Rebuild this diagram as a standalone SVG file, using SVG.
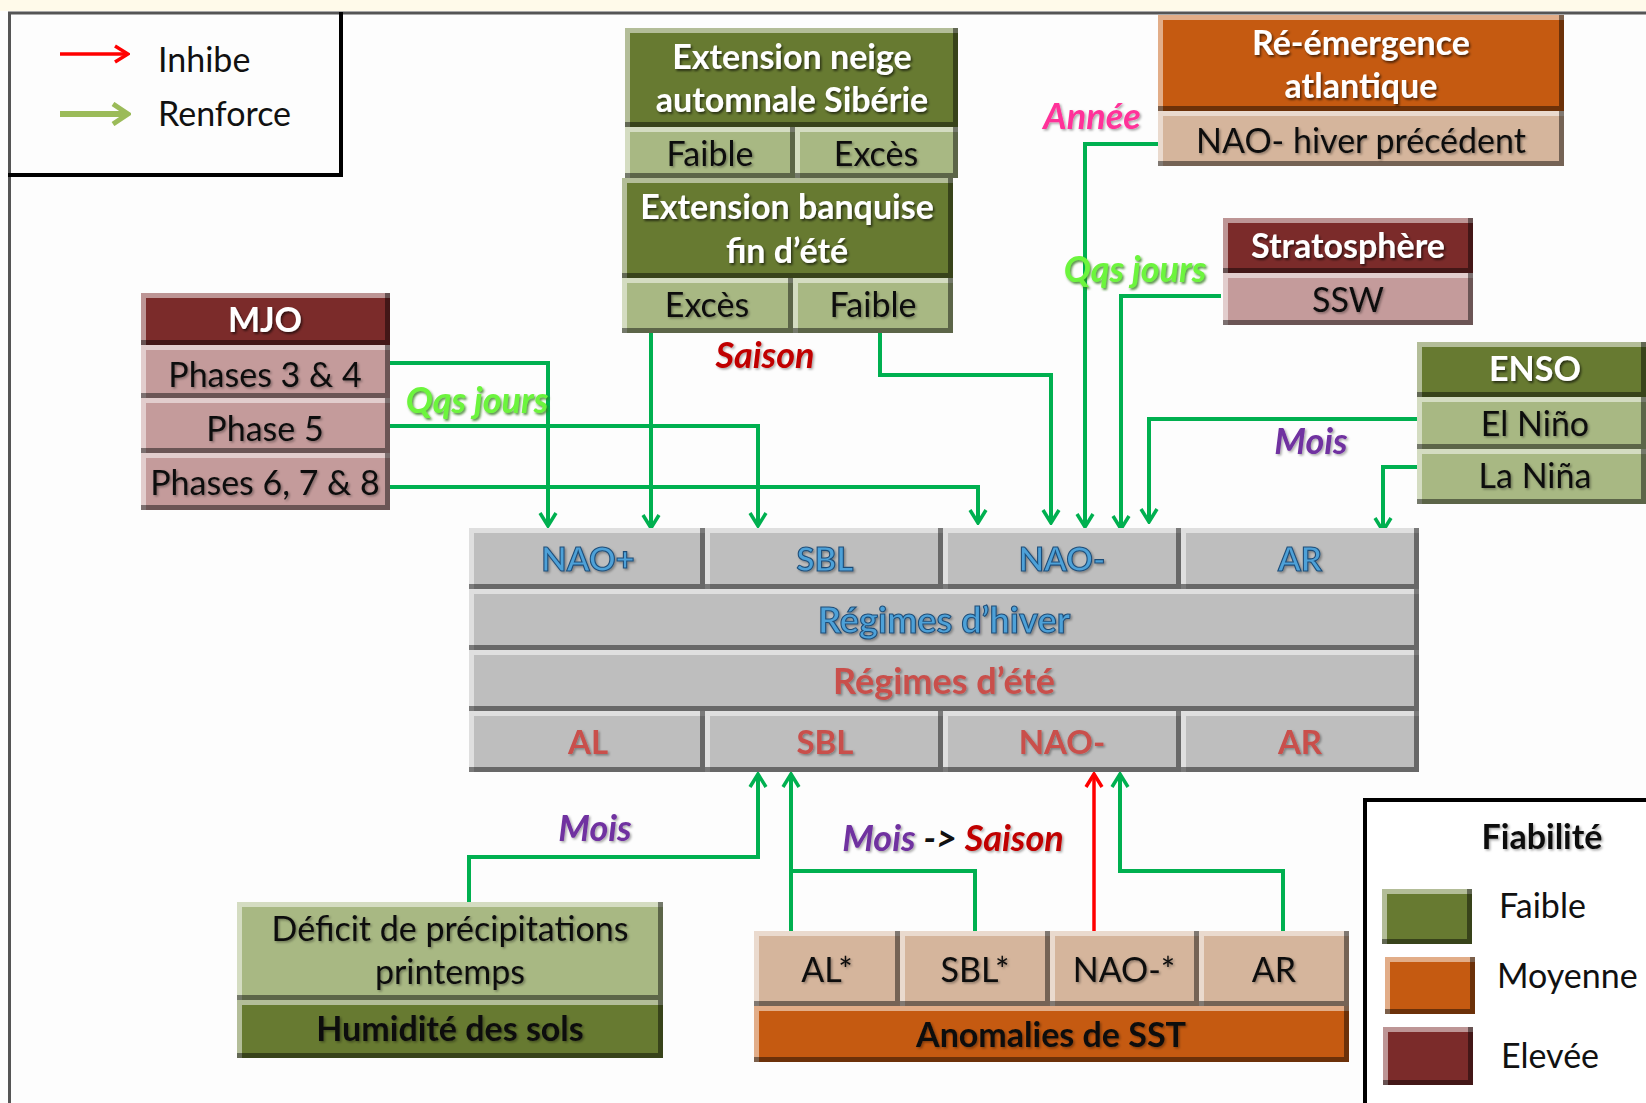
<svg xmlns="http://www.w3.org/2000/svg" width="1646" height="1103" viewBox="0 0 1646 1103">
<defs>
<style>
text{font-family:Lato,"Open Sans","Liberation Sans",sans-serif}
.og{fill:#677a31;filter:url(#bv)}
.ol{fill:#a8b883;filter:url(#bv)}
.or{fill:#c55a11;filter:url(#bv)}
.tn{fill:#d5b59c;filter:url(#bv)}
.dr{fill:#7b2b2a;filter:url(#bv)}
.pk{fill:#c49b9b;filter:url(#bv)}
.gy{fill:#bebebe;filter:url(#bv)}
.hw{fill:#fff;font-weight:700;font-size:34px;text-anchor:middle;filter:url(#ts)}
.rk{fill:#111;font-size:34px;text-anchor:middle;filter:url(#ts2)}
.rb{fill:#111;font-size:34px;font-weight:700;text-anchor:middle;filter:url(#ts2)}
.bl{fill:#4ea1d8;stroke:#1f4e79;stroke-width:1.1;font-weight:700;font-size:33px;text-anchor:middle;filter:url(#ts2)}
.rd{fill:#c9504c;font-weight:700;font-size:33px;text-anchor:middle;filter:url(#ts2)}
.big{font-size:36px}
.lbl{font-weight:700;font-style:italic;font-size:36px;text-anchor:middle}
.qj{fill:#6cf53c;filter:url(#gl)}
.mo{fill:#7030a0;filter:url(#ts2)}
.sa{fill:#c00000;filter:url(#ts2)}
.an{fill:#ff3399;filter:url(#ts2)}
.leg{fill:#111;font-size:34px}
.ln{fill:none;stroke:#00b050;stroke-width:4}
.cg{fill:none;stroke:#00b050;stroke-width:4;marker-end:url(#ag)}
.cr{fill:none;stroke:#ff0000;stroke-width:3.5;marker-end:url(#ar)}
</style>
<filter id="bv" x="0" y="0" width="1" height="1" color-interpolation-filters="sRGB">
<feOffset in="SourceAlpha" dx="5" dy="5" result="o1"/>
<feComposite in="SourceAlpha" in2="o1" operator="out" result="tl"/>
<feFlood flood-color="#ffffff" flood-opacity="0.5" result="w"/>
<feComposite in="w" in2="tl" operator="in" result="hl"/>
<feOffset in="SourceAlpha" dx="-5" dy="-5" result="o2"/>
<feComposite in="SourceAlpha" in2="o2" operator="out" result="br"/>
<feFlood flood-color="#000000" flood-opacity="0.45" result="k"/>
<feComposite in="k" in2="br" operator="in" result="sh"/>
<feMerge><feMergeNode in="SourceGraphic"/><feMergeNode in="hl"/><feMergeNode in="sh"/></feMerge>
</filter>
<filter id="ts" x="-10%" y="-30%" width="120%" height="160%"><feDropShadow dx="1.5" dy="2" stdDeviation="1" flood-color="#000" flood-opacity="0.6"/></filter>
<filter id="ts2" x="-10%" y="-30%" width="120%" height="160%"><feDropShadow dx="1.5" dy="1.5" stdDeviation="1" flood-color="#000" flood-opacity="0.35"/></filter>
<filter id="gl" x="-10%" y="-30%" width="120%" height="160%"><feDropShadow dx="1.5" dy="2" stdDeviation="1.2" flood-color="#2e7d1e" flood-opacity="0.8"/></filter>
<marker id="ag" viewBox="0 0 16 20" refX="14" refY="10" markerWidth="16" markerHeight="20" markerUnits="userSpaceOnUse" orient="auto"><path d="M1,2 L14,10 L1,18" fill="none" stroke="#00b050" stroke-width="3.5"/></marker>
<marker id="ar" viewBox="0 0 16 20" refX="14" refY="10" markerWidth="16" markerHeight="20" markerUnits="userSpaceOnUse" orient="auto"><path d="M1,2 L14,10 L1,18" fill="none" stroke="#ff0000" stroke-width="3.5"/></marker>
<marker id="lg" viewBox="0 0 20 24" refX="17" refY="12" markerWidth="20" markerHeight="24" markerUnits="userSpaceOnUse" orient="auto"><path d="M2,2 L17,12 L2,22" fill="none" stroke="#9bbb59" stroke-width="5"/></marker>
</defs>

<rect x="0" y="0" width="1646" height="1103" fill="#fdfdfd"/>
<rect x="0" y="0" width="1646" height="11" fill="#fffaea"/>
<line x1="8" y1="13" x2="1646" y2="13" stroke="#555" stroke-width="3"/>
<line x1="9.5" y1="12" x2="9.5" y2="1103" stroke="#555" stroke-width="3"/>

<g id="legend-arrows">
<line x1="8" y1="175" x2="343" y2="175" stroke="#000" stroke-width="4"/>
<line x1="341" y1="12" x2="341" y2="177" stroke="#000" stroke-width="4"/>
<line x1="60" y1="54" x2="128" y2="54" stroke="#ff0000" stroke-width="3.5" marker-end="url(#ar)"/>
<line x1="60" y1="114" x2="128" y2="114" stroke="#9bbb59" stroke-width="6" marker-end="url(#lg)"/>
<text class="leg" x="158" y="72">Inhibe</text>
<text class="leg" x="158" y="126">Renforce</text>
</g>

<g id="connectors">
<path class="cg" d="M390,363 H548 V526"/>
<path class="cg" d="M390,426 H758 V526"/>
<path class="cg" d="M390,487 H978 V523"/>
<path class="cg" d="M651,333 V528"/>
<path class="cg" d="M880,333 V375 H1051 V523"/>
<path class="cg" d="M1158,144 H1085 V527"/>
<path class="cg" d="M1221,296 H1121 V529"/>
<path class="cg" d="M1417,419 H1149 V522"/>
<path class="cg" d="M1417,467 H1383 V531"/>
<path class="cg" d="M469,902 V857 H758 V774"/>
<path class="cg" d="M791,931 V774"/>
<path class="ln" d="M975,931 V871 H791"/>
<path class="cr" d="M1094,931 V774"/>
<path class="cg" d="M1283,931 V871 H1120 V774"/>
</g>

<g id="labels">
<text class="lbl qj" x="477" y="413">Qqs jours</text>
<text class="lbl sa" x="765" y="368">Saison</text>
<text class="lbl an" x="1092" y="129">Année</text>
<text class="lbl qj" x="1135" y="282">Qqs jours</text>
<text class="lbl mo" x="1311" y="454">Mois</text>
<text class="lbl mo" x="595" y="841">Mois</text>
<text class="lbl" x="953" y="851"><tspan class="mo">Mois</tspan><tspan fill="#111"> -&gt; </tspan><tspan class="sa">Saison</tspan></text>
</g>

<g id="neige">
<rect class="og" x="625" y="28" width="333" height="99"/>
<rect class="ol" x="625" y="127" width="170" height="51"/>
<rect class="ol" x="795" y="127" width="163" height="51"/>
<text class="hw" x="792" y="69">Extension neige</text>
<text class="hw" x="792" y="112">automnale Sibérie</text>
<text class="rk" x="710" y="166">Faible</text>
<text class="rk" x="876" y="166">Excès</text>
</g>

<g id="banquise">
<rect class="og" x="622" y="178" width="331" height="100"/>
<rect class="ol" x="622" y="278" width="171" height="55"/>
<rect class="ol" x="793" y="278" width="160" height="55"/>
<text class="hw" x="787" y="219">Extension banquise</text>
<text class="hw" x="787" y="263">fin d’été</text>
<text class="rk" x="707" y="317">Excès</text>
<text class="rk" x="873" y="317">Faible</text>
</g>

<g id="reemergence">
<rect class="or" x="1158" y="15" width="406" height="96"/>
<rect class="tn" x="1158" y="111" width="406" height="55"/>
<text class="hw" x="1361" y="55">Ré-émergence</text>
<text class="hw" x="1361" y="98">atlantique</text>
<text class="rk" x="1361" y="153">NAO- hiver précédent</text>
</g>

<g id="stratosphere">
<rect class="dr" x="1223" y="218" width="250" height="55"/>
<rect class="pk" x="1223" y="273" width="250" height="52"/>
<text class="hw" x="1348" y="258">Stratosphère</text>
<text class="rk" x="1348" y="312">SSW</text>
</g>

<g id="enso">
<rect class="og" x="1417" y="342" width="229" height="55"/>
<rect class="ol" x="1417" y="397" width="229" height="52"/>
<rect class="ol" x="1417" y="449" width="229" height="55"/>
<text class="hw" x="1535" y="381">ENSO</text>
<text class="rk" x="1535" y="436">El Niño</text>
<text class="rk" x="1535" y="488">La Niña</text>
</g>

<g id="mjo">
<rect class="dr" x="141" y="293" width="249" height="52"/>
<rect class="pk" x="141" y="345" width="249" height="53"/>
<rect class="pk" x="141" y="398" width="249" height="55"/>
<rect class="pk" x="141" y="453" width="249" height="57"/>
<text class="hw" x="265" y="332">MJO</text>
<text class="rk" x="265" y="387">Phases 3 &amp; 4</text>
<text class="rk" x="265" y="441">Phase 5</text>
<text class="rk" x="265" y="495">Phases 6, 7 &amp; 8</text>
</g>

<g id="regimes">
<rect class="gy" x="469" y="528" width="236" height="61"/>
<rect class="gy" x="705" y="528" width="238" height="61"/>
<rect class="gy" x="943" y="528" width="238" height="61"/>
<rect class="gy" x="1181" y="528" width="238" height="61"/>
<rect class="gy" x="469" y="589" width="950" height="61"/>
<rect class="gy" x="469" y="650" width="950" height="61"/>
<rect class="gy" x="469" y="711" width="236" height="61"/>
<rect class="gy" x="705" y="711" width="238" height="61"/>
<rect class="gy" x="943" y="711" width="238" height="61"/>
<rect class="gy" x="1181" y="711" width="238" height="61"/>
<text class="bl" x="588" y="571">NAO+</text>
<text class="bl" x="825" y="571">SBL</text>
<text class="bl" x="1062" y="571">NAO-</text>
<text class="bl" x="1300" y="571">AR</text>
<text class="bl big" x="944" y="633">Régimes d’hiver</text>
<text class="rd big" x="944" y="694">Régimes d’été</text>
<text class="rd" x="588" y="754">AL</text>
<text class="rd" x="825" y="754">SBL</text>
<text class="rd" x="1062" y="754">NAO-</text>
<text class="rd" x="1300" y="754">AR</text>
</g>

<g id="deficit">
<rect class="ol" x="237" y="902" width="426" height="98"/>
<rect class="og" x="237" y="1000" width="426" height="58"/>
<text class="rk" x="450" y="941">Déficit de précipitations</text>
<text class="rk" x="450" y="984">printemps</text>
<text class="rb" x="450" y="1041">Humidité des sols</text>
</g>

<g id="sst">
<rect class="tn" x="754" y="931" width="146" height="75"/>
<rect class="tn" x="900" y="931" width="150" height="75"/>
<rect class="tn" x="1050" y="931" width="149" height="75"/>
<rect class="tn" x="1199" y="931" width="150" height="75"/>
<rect class="or" x="754" y="1006" width="595" height="56"/>
<text class="rk" x="827" y="982">AL*</text>
<text class="rk" x="975" y="982">SBL*</text>
<text class="rk" x="1124" y="982">NAO-*</text>
<text class="rk" x="1274" y="982">AR</text>
<text class="rb" x="1051" y="1047">Anomalies de SST</text>
</g>

<g id="fiabilite">
<rect x="1365" y="800" width="300" height="320" fill="#fff" stroke="#000" stroke-width="4"/>
<text class="rb" x="1542" y="849">Fiabilité</text>
<rect class="og" x="1382" y="889" width="90" height="55"/>
<rect class="or" x="1385" y="957" width="90" height="57"/>
<rect class="dr" x="1383" y="1027" width="90" height="58"/>
<text class="leg" x="1499" y="918">Faible</text>
<text class="leg" x="1497" y="988">Moyenne</text>
<text class="leg" x="1501" y="1068">Elevée</text>
</g>
</svg>
